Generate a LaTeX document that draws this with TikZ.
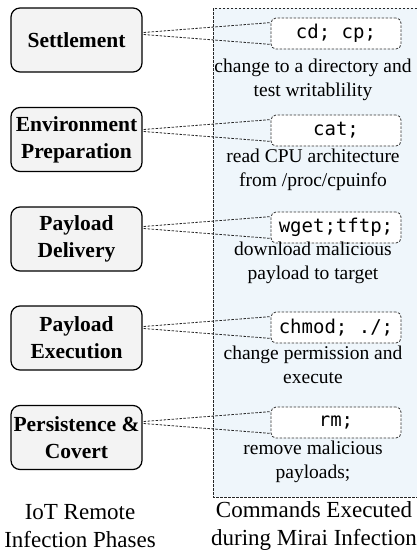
\documentclass[tikz,border=0pt]{standalone}
\usepackage{fontspec}
\setmainfont{Liberation Serif}
\setmonofont{DejaVu Sans Mono}
\definecolor{panelblue}{RGB}{239,246,251}
\definecolor{phasegray}{RGB}{243,243,243}
\begin{document}
\begin{tikzpicture}[x=1pt,y=-1pt,
  phase/.style={draw=black, line width=1.2pt, fill=phasegray, rounded corners=9pt,
    minimum width=131pt, minimum height=64pt, inner sep=1pt, align=center,
    font=\bfseries\fontsize{21.5}{27}\selectfont},
  cmdbox/.style={draw=black!80, dash pattern=on 2.5pt off 1.5pt, line width=0.8pt,
    fill=white, rounded corners=5pt, minimum width=130pt, minimum height=31pt,
    inner sep=0pt, font=\ttfamily\fontsize{19}{22}\selectfont},
  desc/.style={align=center, font=\fontsize{19.5}{24}\selectfont, inner sep=0pt},
  caption/.style={align=center, font=\fontsize{23}{28}\selectfont, inner sep=0pt},
  conn/.style={draw=black!85, dash pattern=on 2.5pt off 1.5pt, line width=0.8pt},
  panel/.style={draw=black!85, dash pattern=on 2.5pt off 1.5pt, line width=0.8pt, fill=panelblue}]

\useasboundingbox (0,0) rectangle (417,552);

% command panel (open to the right)
\path[panel] (213,8) rectangle (422,497);

% infection phases
\node[phase] (L1) at (76.5,40)    {Settlement};
\node[phase] (L2) at (76.5,139.5) {Environment\\Preparation};
\node[phase] (L3) at (76.5,239)   {Payload\\Delivery};
\node[phase] (L4) at (76.5,338)   {Payload\\Execution};
\node[phase] (L5) at (76.5,437.5) {Persistence \&\\Covert};

% commands
\node[cmdbox] (C1) at (336,33.5)  {cd; cp;};
\node[cmdbox] (C2) at (336,130.5) {cat;};
\node[cmdbox] (C3) at (336,227.5) {wget;tftp;};
\node[cmdbox] (C4) at (336,327.5) {chmod; ./;};
\node[cmdbox] (C5) at (336,422.5) {rm;};

% command descriptions
\node[desc] (D1) at (313,80)    {change to a directory and\\test writablility};
\node[desc] (D2) at (313,170)   {read CPU architecture\\from /proc/cpuinfo};
\node[desc] (D3) at (313,262.5) {download malicious\\payload to target};
\node[desc] (D4) at (313,365)   {change permission and\\execute};
\node[desc] (D5) at (313,461.5) {remove malicious\\payloads;};

% zoom-style connectors from each phase to its commands
\foreach \i in {1,...,5}{
  \draw[conn] ([xshift=1pt,yshift=1pt]L\i.east |- C\i.west) -- ([yshift=-5pt]C\i.north west);
  \draw[conn] ([xshift=1pt,yshift=-1pt]L\i.east |- C\i.west) -- ([yshift=5pt]C\i.south west);
}

% column captions
\node[caption] (T1) at (80,526)  {IoT Remote\\Infection Phases};
\node[caption] (T2) at (314,526) {Commands Executed\\during Mirai Infection};
\end{tikzpicture}
\end{document}
